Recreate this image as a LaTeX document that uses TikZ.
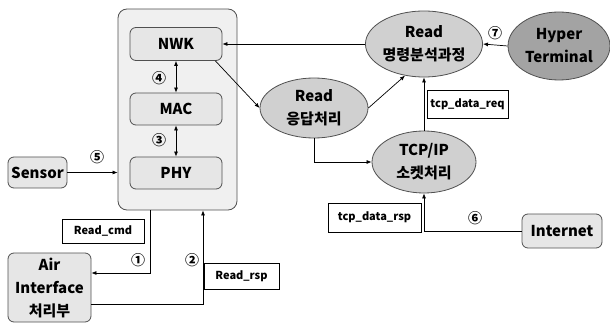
\documentclass[tikz,border=0pt]{standalone}
\usepackage{fontspec}
\setmainfont{Noto Sans CJK KR}
\usetikzlibrary{arrows.meta, positioning, calc, shapes.geometric}
\definecolor{boxfill}{HTML}{E6E6E6}
\definecolor{outerfill}{HTML}{F0F0F0}
\definecolor{ellfill}{HTML}{D0D0D0}
\definecolor{darkfill}{HTML}{A3A3A3}
\definecolor{edge}{HTML}{505050}

\begin{document}
\begin{tikzpicture}[
  x=1pt, y=-1pt,
  font=\bfseries\fontsize{15}{23}\selectfont,
  layer/.style={draw=edge, fill=boxfill, rounded corners=6pt, line width=0.8pt,
                inner sep=0pt, align=center},
  proc/.style={ellipse, draw=edge, fill=ellfill, line width=0.8pt,
               inner sep=0pt, align=center},
  tag/.style={draw=black, fill=white, line width=0.6pt, inner sep=0pt,
              font=\bfseries\fontsize{11}{14}\selectfont},
  num/.style={inner sep=0pt, font=\bfseries\fontsize{14}{16}\selectfont},
  arr/.style={-{Latex[length=5pt, width=4pt]}, line width=0.7pt},
  darr/.style={{Latex[length=5pt, width=4pt]}-{Latex[length=5pt, width=4pt]}, line width=0.7pt}
]
  \useasboundingbox (0,0) rectangle (610,323);

  % Stack
  \node[layer, fill=outerfill, rounded corners=9pt, minimum width=119pt,
        minimum height=201pt] (stack) at (177.5,109.5) {};
  \node[layer, minimum width=92pt, minimum height=33pt] (nwk) at (176,44) {NWK};
  \node[layer, minimum width=92pt, minimum height=32pt] (mac) at (176,109) {MAC};
  \node[layer, minimum width=92pt, minimum height=32pt] (phy) at (176,173) {PHY};

  % Left side
  \node[layer, minimum width=59pt, minimum height=31pt] (sensor) at (37.5,172.5) {Sensor};
  \node[layer, minimum width=83pt, minimum height=69pt] (air) at (49.5,287.5)
    {Air\\Interface\\처리부};
  \node[tag, minimum width=82pt, minimum height=24pt] (readcmd) at (103,231) {Read\_cmd};
  \node[tag, minimum width=75pt, minimum height=26pt] (readrsp) at (241.5,276) {Read\_rsp};

  % Right side
  \node[proc, minimum width=104pt, minimum height=66pt] (cmd) at (424,44)
    {Read\\명령분석과정};
  \node[proc, fill=darkfill, minimum width=102pt, minimum height=68pt] (hyper)
    at (559,46) {Hyper\\Terminal};
  \node[proc, minimum width=108pt, minimum height=60pt] (rsp) at (314,108)
    {Read\\응답처리};
  \node[proc, minimum width=104pt, minimum height=62pt] (tcp) at (424,162)
    {TCP/IP\\소켓처리};
  \node[tag, minimum width=81pt, minimum height=28pt] (tcpreq) at (467.5,104)
    {tcp\_data\_req};
  \node[tag, minimum width=93pt, minimum height=29pt] (tcprsp) at (374.5,217.5)
    {tcp\_data\_rsp};
  \node[layer, minimum width=80pt, minimum height=34pt] (internet) at (562,231)
    {Internet};

  % Step numbers
  \node[num] (n1) at (138,260) {①};
  \node[num] (n2) at (192,260) {②};
  \node[num] (n3) at (159,140) {③};
  \node[num] (n4) at (159,78) {④};
  \node[num] (n5) at (97,157) {⑤};
  \node[num] (n6) at (475,218) {⑥};
  \node[num] (n7) at (495,33) {⑦};

  % Connectors
  \draw[darr] (nwk.south) -- (mac.north);
  \draw[darr] (mac.south) -- (phy.north);
  \draw[arr] (sensor.east) -- (sensor.east -| stack.west);
  \draw[arr] ([xshift=-27.5pt]stack.south) |- ([yshift=14.5pt]air.east);
  \draw[arr] ([yshift=-16.5pt]air.east) -| ([xshift=25.5pt]stack.south);

  \draw[arr] (cmd.west) -- (nwk.east);
  \draw[arr] (hyper.west) -- (cmd.east);
  \draw[arr] ([xshift=-7pt]nwk.south east) -- (rsp.west);
  \draw[arr] (rsp.east) -- (cmd.239);
  \draw[arr] (tcp.north) -- (cmd.south);
  \draw[arr] (rsp.south) |- (tcp.west);
  \draw[arr] (internet.west) -| (tcp.south);
\end{tikzpicture}
\end{document}
